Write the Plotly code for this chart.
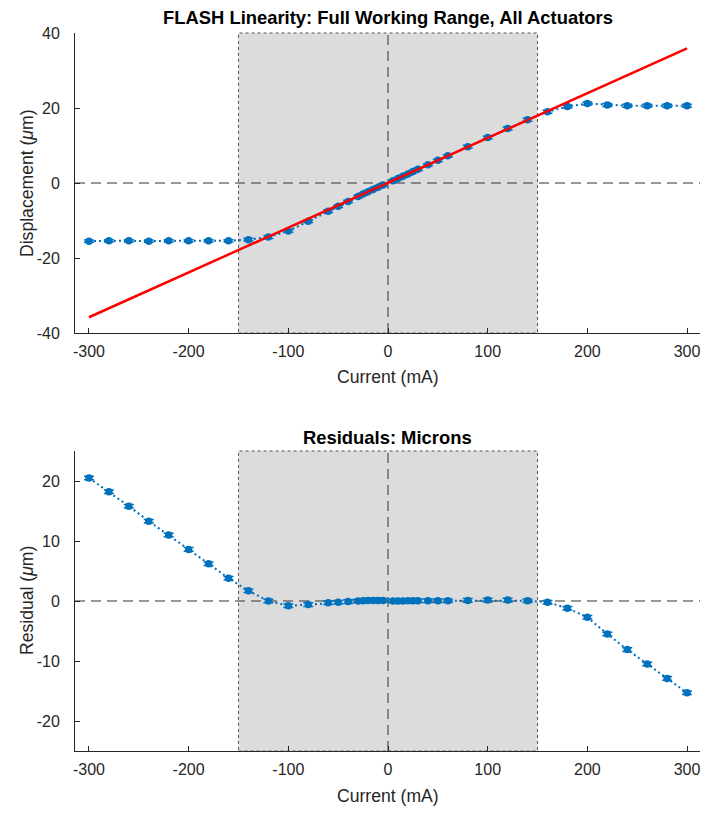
import plotly.graph_objects as go
from plotly.subplots import make_subplots

# measured points (mA, um)
current = [-300, -280, -260, -240, -220, -200, -180, -160, -140, -120, -100, -80,
           -60, -50, -40, -30, -25, -20, -15, -10, -5,
           5, 10, 15, 20, 25, 30, 40, 50, 60,
           80, 100, 120, 140, 160, 180, 200, 220, 240, 260, 280, 300]

displacement = [-15.5, -15.4, -15.4, -15.5, -15.4, -15.4, -15.4, -15.4, -15.1, -14.4, -12.8, -10.2,
                -7.5, -6.2, -4.9, -3.6, -2.95, -2.3, -1.7, -1.1, -0.5,
                0.6, 1.2, 1.8, 2.4, 3.05, 3.65, 4.85, 6.05, 7.25,
                9.7, 12.15, 14.55, 16.85, 19.0, 20.4, 21.2, 20.8, 20.6, 20.6, 20.6, 20.6]

disp_err = [0.3, 0.3, 0.3, 0.3, 0.3, 0.3, 0.3, 0.3, 0.35, 0.4, 0.35, 0.35,
            0.35, 0.3, 0.3, 0.3, 0.3, 0.3, 0.3, 0.3, 0.3,
            0.3, 0.3, 0.3, 0.3, 0.3, 0.3, 0.3, 0.3, 0.3,
            0.35, 0.35, 0.4, 0.4, 0.4, 0.4, 0.4, 0.4, 0.4, 0.4, 0.4, 0.4]

residual = [20.5, 18.2, 15.8, 13.3, 11.0, 8.6, 6.2, 3.8, 1.7, 0.0, -0.8, -0.6,
            -0.3, -0.2, -0.1, 0.0, 0.05, 0.1, 0.1, 0.1, 0.1,
            0.0, 0.0, 0.0, 0.05, 0.05, 0.05, 0.05, 0.05, 0.05,
            0.1, 0.15, 0.15, 0.05, -0.2, -1.2, -2.7, -5.5, -8.1, -10.5, -12.9, -15.3]

resid_err = [0.3] * len(current)

# linear fit over the working range
fit_current = [-300, 300]
fit_displacement = [-35.8, 35.9]

# working range
range_lo, range_hi = -150, 150

x_ticks = [-300, -200, -100, 0, 100, 200, 300]
disp_ticks = [-40, -20, 0, 20, 40]
resid_ticks = [-20, -10, 0, 10, 20]

BLUE = '#0072BD'
AXIS = '#262626'
FONT = 'Liberation Sans, Arial, sans-serif'

fig = make_subplots(rows=2, cols=1)

fig.add_trace(go.Scatter(
    x=current, y=displacement, mode='lines+markers',
    line=dict(color=BLUE, width=2, dash='2px,3px'),
    marker=dict(color=BLUE, size=7.5),
    error_y=dict(type='data', array=disp_err, color=BLUE, thickness=1.5, width=5),
    showlegend=False), row=1, col=1)

fig.add_trace(go.Scatter(
    x=fit_current, y=fit_displacement, mode='lines',
    line=dict(color='#FF0000', width=2.5),
    showlegend=False), row=1, col=1)

fig.add_trace(go.Scatter(
    x=current, y=residual, mode='lines+markers',
    line=dict(color=BLUE, width=2, dash='2px,3px'),
    marker=dict(color=BLUE, size=7.5),
    error_y=dict(type='data', array=resid_err, color=BLUE, thickness=1.5, width=5),
    showlegend=False), row=2, col=1)

for xr, yr in [('x', 'y'), ('x2', 'y2')]:
    fig.add_shape(type='rect', xref=xr, yref=yr + ' domain',
                  x0=range_lo, x1=range_hi, y0=0, y1=1,
                  fillcolor='#DCDCDC', line=dict(color='#555555', width=1, dash='dot'),
                  layer='below')
    fig.add_shape(type='line', xref=xr + ' domain', yref=yr,
                  x0=0, x1=1, y0=0, y1=0,
                  line=dict(color='#333333', width=1, dash='10px,6px'), layer='below')
    fig.add_shape(type='line', xref=xr, yref=yr + ' domain',
                  x0=0, x1=0, y0=0, y1=1,
                  line=dict(color='#333333', width=1, dash='10px,6px'), layer='below')

axis_style = dict(showline=True, linecolor=AXIS, linewidth=1, ticks='inside',
                  ticklen=5, tickcolor=AXIS, showgrid=False, zeroline=False,
                  tickfont=dict(family=FONT, size=16, color=AXIS))

fig.update_xaxes(range=[-314, 313], tickvals=x_ticks, ticktext=[str(v) for v in x_ticks],
                 ticklabelstandoff=4, **axis_style)
fig.update_yaxes(ticklabelstandoff=11, **axis_style)
fig.update_yaxes(range=[-40, 40], tickvals=disp_ticks,
                 ticktext=[str(v) for v in disp_ticks], row=1, col=1)
fig.update_yaxes(range=[-25, 25], tickvals=resid_ticks,
                 ticktext=[str(v) for v in resid_ticks], row=2, col=1)

# page body adds 8px offset, so figure is slightly smaller than the window
fig.update_layout(
    width=709, height=805,
    margin=dict(l=67, r=17, t=25, b=62),
    plot_bgcolor='white', paper_bgcolor='white',
    xaxis=dict(domain=[0, 1], anchor='y'),
    yaxis=dict(domain=[418 / 718, 1]),
    xaxis2=dict(domain=[0, 1], anchor='y2'),
    yaxis2=dict(domain=[0, 300 / 718]),
)

label_font = dict(family=FONT, size=17.6, color=AXIS)
title_font = dict(family=FONT, size=18.4, color='black')

texts = [
    (0.5, 1.0209, '<b>FLASH Linearity: Full Working Range, All Actuators</b>', title_font, 0),
    (0.5, 0.4373, '<b>Residuals: Microns</b>', title_font, 0),
    (0.5, 0.521, 'Current (mA)', label_font, 0),
    (0.5, -0.0627, 'Current (mA)', label_font, 0),
    (-0.0768, (751 - 183) / 718, 'Displacement (<i>μ</i>m)', label_font, -90),
    (-0.0768, (751 - 601) / 718, 'Residual (<i>μ</i>m)', label_font, -90),
]
for x, y, t, f, a in texts:
    fig.add_annotation(x=x, y=y, xref='paper', yref='paper', text=t, font=f,
                       textangle=a, showarrow=False, xanchor='center', yanchor='middle')

fig.write_html("out.html")
